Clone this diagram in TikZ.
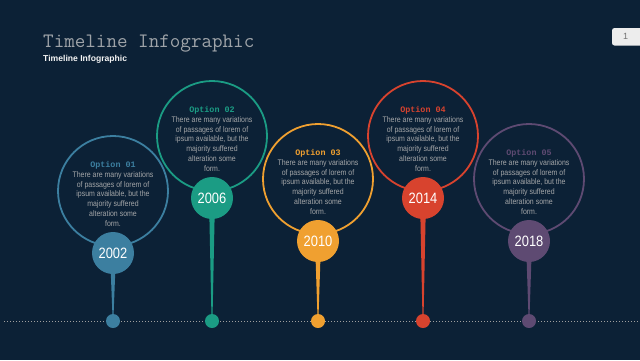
\documentclass[tikz,border=0pt]{standalone}
\usepackage{fontspec}
\setmainfont{Liberation Sans}
\newfontfamily\bodyfont[FakeStretch=0.86]{Liberation Sans}
\newfontfamily\optfont{Liberation Mono}
\usetikzlibrary{calc}
\definecolor{bg}{HTML}{0C2136}
\definecolor{cA}{HTML}{3C7FA0}
\definecolor{cB}{HTML}{1B9C84}
\definecolor{cC}{HTML}{F0A030}
\definecolor{cD}{HTML}{D8432E}
\definecolor{cE}{HTML}{5E4A72}
\definecolor{bodygray}{HTML}{A4A6A8}
\definecolor{titlegray}{HTML}{9EA3A8}
\tikzset{
  bigring/.style={circle, draw=#1, line width=1.8bp, minimum size=110bp, inner sep=0pt},
  yearball/.style={circle, fill=#1, minimum size=42bp, inner sep=0pt, text=white,
     font=\bodyfont\fontsize{15bp}{15bp}\selectfont},
  tldot/.style={circle, fill=#1, minimum size=14bp, inner sep=0pt},
  opttitle/.style={text=#1, font=\optfont\bfseries\fontsize{8.4bp}{9bp}\selectfont, inner sep=0pt},
  bodytext/.style={text=bodygray, align=center, inner sep=0pt,
     font=\bodyfont\fontsize{8.1bp}{9.7bp}\selectfont},
}
\newcommand{\bodytxt}{There are many variations\\of passages of lorem of\\ipsum available, but the\\majority suffered\\alteration some\\form.}
\begin{document}
\begin{tikzpicture}[x=1bp,y=-1bp]
\fill[bg] (0,0) rectangle (640,360);
\useasboundingbox (0,0) rectangle (640,360);
% titles
\node[anchor=base west, inner sep=0pt, text=titlegray, font=\ttfamily\fontsize{20.5bp}{22bp}\selectfont] (title) at (43,47) {Timeline Infographic};
\node[anchor=base west, inner sep=0pt, text=white!92!gray, font=\bfseries\fontsize{8.6bp}{9bp}\selectfont] (subtitle) at (43,61) {Timeline Infographic};
% page number tab
\fill[white!86!gray, rounded corners=2.5bp] (612,28) rectangle (646,45.5);
\node[text=gray!90!black, font=\fontsize{9bp}{10bp}\selectfont, inner sep=0pt] (pnum) at (625.5,36.8) {1};
% dotted axis
\coordinate (axL) at (4,321);
\coordinate (axR) at (640,321);
\draw[gray!75, line width=0.9bp, dash pattern=on 1bp off 2bp] (axL) -- (axR);
% items
\foreach \i/\x/\y/\c/\num/\yr in {1/113/191/cA/01/2002, 2/212/136/cB/02/2006, 3/318/179/cC/03/2010, 4/423/136/cD/04/2014, 5/529/179/cE/05/2018}{
  \node[bigring=\c] (ring\i) at (\x,\y) {};
  \node[opttitle=\c] (opt\i) at (\x,\y-26) {Option \num};
  \node[bodytext, anchor=north] (body\i) at (\x,\y-19.5) {\bodytxt};
  \node[tldot=\c] (dot\i) at (\x,321) {};
  \fill[\c] ($(ring\i.center)+(-3,62)$) -- ($(ring\i.center)+(3,62)$) -- ($(dot\i.north)+(0.6,0)$) -- ($(dot\i.north)+(-0.6,0)$) -- cycle;
  \node[yearball=\c] (year\i) at (\x,\y+62) {\yr};
}
\end{tikzpicture}
\end{document}
